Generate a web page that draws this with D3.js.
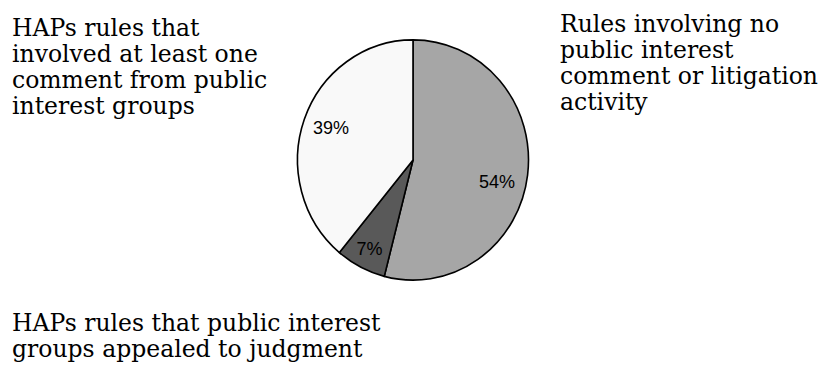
<!DOCTYPE html>
<html lang="en">

<head>
  <meta charset="UTF-8">
  <title>HAPs rules</title>
  <script src="https://d3js.org/d3.v7.min.js"></script>
  <style>
    body {
      margin: 0;
      background: #fff;
    }

    .slice-label {
      font-family: "Liberation Sans", Arial, sans-serif;
      font-size: 18px;
      fill: #000;
    }

    .note {
      font-family: "DejaVu Serif", "Century Schoolbook", serif;
      font-size: 23.5px;
      fill: #000;
    }
  </style>
</head>

<body>
  <div id="chart"></div>

  <script>
    // slice values (percent), clockwise from 12 o'clock
    const categories = ["No public interest activity", "Appealed to judgment", "At least one comment"];
    const values = [54, 7, 39];
    const colors = ["#a6a6a6", "#595959", "#f9f9f9"];

    // free-floating notes around the pie
    const notes = [
      { lines: ["HAPs rules that", "involved at least one", "comment from public", "interest groups"], x: 12, y: 36 },
      { lines: ["Rules involving no", "public interest", "comment or litigation", "activity"], x: 560, y: 32 },
      { lines: ["HAPs rules that public interest", "groups appealed to judgment"], x: 12, y: 331 }
    ];

    const width = 826;
    const height = 372;
    const cx = 413, cy = 160;
    const radius = 115.5;
    const squash = 1.04; // the pie is slightly taller than wide

    // where each percentage sits: fraction of radius, extra turn (radians)
    const labelRadius = [0.75, 0.83, 0.76];
    const labelTurn = [0.12, 0, 0.02];

    const svg = d3.select("#chart").append("svg")
      .attr("width", width)
      .attr("height", height);

    const pie = d3.pie().sort(null).value(d => d)(values);
    const arc = d3.arc().innerRadius(0).outerRadius(radius);

    const g = svg.append("g")
      .attr("transform", `translate(${cx},${cy}) scale(1,${squash})`);

    g.selectAll("path")
      .data(pie)
      .enter().append("path")
      .attr("d", arc)
      .attr("fill", (d, i) => colors[i])
      .attr("stroke", "#000")
      .attr("stroke-width", 1.6)
      .attr("stroke-linejoin", "round");

    const labelPos = (d, i) => {
      const r = radius * labelRadius[i];
      const a = (d.startAngle + d.endAngle) / 2 + labelTurn[i];
      return [cx + r * Math.sin(a), cy - r * Math.cos(a) * squash];
    };

    svg.selectAll(".slice-label")
      .data(pie)
      .enter().append("text")
      .attr("class", "slice-label")
      .attr("text-anchor", "middle")
      .attr("dy", "0.35em")
      .attr("x", (d, i) => labelPos(d, i)[0])
      .attr("y", (d, i) => labelPos(d, i)[1])
      .text(d => d.data + "%");

    notes.forEach(n => {
      const t = svg.append("text")
        .attr("class", "note")
        .attr("x", n.x)
        .attr("y", n.y);
      t.selectAll("tspan")
        .data(n.lines)
        .enter().append("tspan")
        .attr("x", n.x)
        .attr("dy", (d, i) => i === 0 ? 0 : 26)
        .text(d => d);
    });
  </script>
</body>

</html>
